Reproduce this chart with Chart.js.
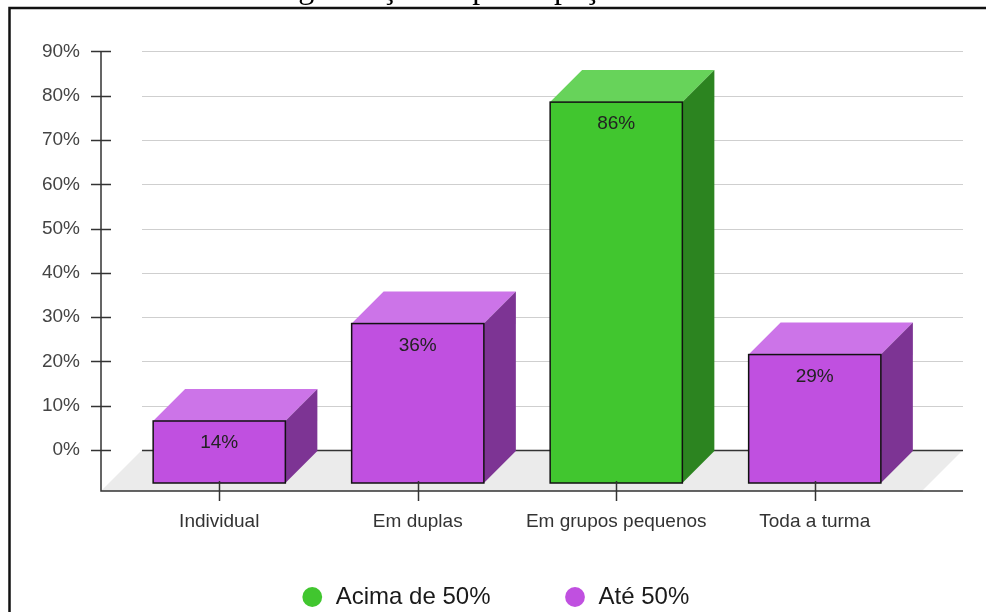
<!DOCTYPE html>
<html><head><meta charset="utf-8">
<script src="https://cdn.jsdelivr.net/npm/chart.js@4.4.1/dist/chart.umd.min.js"></script>
<style>html,body{margin:0;padding:0;background:#fff;}canvas{display:block;}</style>
</head><body>
<canvas id="c" width="986" height="612"></canvas>
<script>
// ---- data ----
const categories = ['Individual', 'Em duplas', 'Em grupos pequenos', 'Toda a turma'];
const acimaValues = [null, null, 86, null];
const ateValues = [14, 36, null, 29];
const valueLabels = ['14%', '36%', '86%', '29%'];
const yTickValues = [0, 10, 20, 30, 40, 50, 60, 70, 80, 90];
const seriesNames = ['Acima de 50%', 'Até 50%'];
const titleText = 'Organização da participação';

// ---- style ----
const GREEN = {front: '#41c62f', top: '#67d35a', side: '#2c8420'};
const PURPLE = {front: '#c050e0', top: '#cc74e8', side: '#7d3494'};
const BAR_D = 32, BASE_D = 33, FLOOR_D = 41, AXIS_GAP = 19, WALL_EXTRA = 49, BAR_FRAC = 0.333;
const SANS = '"Liberation Sans", Arial, sans-serif';
const LEGEND_PAD = 73, LEGEND_FONT = 24, LEGEND_CENTER_Y = 597, LEGEND_DX = 33;

const threeD = {
  id: 'threeD',
  afterLayout(chart) {
    const lg = chart.legend;
    if (lg) {
      lg.top = LEGEND_CENTER_Y - LEGEND_PAD - LEGEND_FONT / 2;
      lg.bottom = chart.height;
      lg.height = lg.bottom - lg.top;
      lg.left += LEGEND_DX; lg.right += LEGEND_DX;
    }
  },
  beforeDraw(chart) {
    const ctx = chart.ctx;
    ctx.save();
    ctx.fillStyle = '#fff';
    ctx.fillRect(0, 0, chart.width, chart.height);
    ctx.fillStyle = '#000';
    ctx.font = '32px "Liberation Serif", serif';
    ctx.textBaseline = 'alphabetic';
    ctx.textAlign = 'left';
    ctx.fillText(titleText, 265, -2);
    ctx.strokeStyle = '#111';
    ctx.lineWidth = 2.5;
    ctx.beginPath();
    ctx.moveTo(9.5, chart.height);
    ctx.lineTo(9.5, 8);
    ctx.lineTo(chart.width, 8);
    ctx.stroke();
    ctx.restore();
  },
  beforeDatasetsDraw(chart) {
    const ctx = chart.ctx;
    const xs = chart.scales.x, ys = chart.scales.y;
    const area = chart.chartArea;
    const y0 = ys.getPixelForValue(0);
    const axisX = area.left - AXIS_GAP;
    const floorY = y0 + FLOOR_D;
    const wallL = axisX + FLOOR_D;
    const wallR = area.right + WALL_EXTRA;
    ctx.save();
    // floor
    ctx.fillStyle = '#ebebeb';
    ctx.beginPath();
    ctx.moveTo(axisX, floorY);
    ctx.lineTo(wallL, y0);
    ctx.lineTo(wallR, y0);
    ctx.lineTo(wallR - FLOOR_D, floorY);
    ctx.closePath();
    ctx.fill();
    // gridlines on back wall
    yTickValues.forEach(v => {
      const y = Math.round(ys.getPixelForValue(v)) + 0.5;
      ctx.strokeStyle = v === 0 ? '#333' : '#cfcfcf';
      ctx.lineWidth = v === 0 ? 1.5 : 1.2;
      ctx.beginPath();
      ctx.moveTo(wallL, y);
      ctx.lineTo(wallR, y);
      ctx.stroke();
    });
    // bars
    const catW = xs.getPixelForValue(1) - xs.getPixelForValue(0);
    const half = catW * BAR_FRAC;
    categories.forEach((c, i) => {
      let v = acimaValues[i], col = GREEN;
      if (v === null || v === undefined) { v = ateValues[i]; col = PURPLE; }
      if (v === null || v === undefined) return;
      const cx = xs.getPixelForValue(i);
      const x0 = cx - half, x1 = cx + half;
      const fb = y0 + BASE_D;
      const ft = ys.getPixelForValue(v) + BASE_D;
      // top
      ctx.fillStyle = col.top;
      ctx.beginPath();
      ctx.moveTo(x0, ft); ctx.lineTo(x0 + BAR_D, ft - BAR_D); ctx.lineTo(x1 + BAR_D, ft - BAR_D); ctx.lineTo(x1, ft);
      ctx.closePath(); ctx.fill();
      // side
      ctx.fillStyle = col.side;
      ctx.beginPath();
      ctx.moveTo(x1, ft); ctx.lineTo(x1 + BAR_D, ft - BAR_D); ctx.lineTo(x1 + BAR_D, fb - BAR_D); ctx.lineTo(x1, fb);
      ctx.closePath(); ctx.fill();
      // front
      ctx.fillStyle = col.front;
      ctx.fillRect(x0, ft, x1 - x0, fb - ft);
      ctx.strokeStyle = '#111';
      ctx.lineWidth = 1.5;
      ctx.strokeRect(x0, ft, x1 - x0, fb - ft);
      // value label
      ctx.fillStyle = '#222';
      ctx.font = '19px ' + SANS;
      ctx.textAlign = 'center';
      ctx.textBaseline = 'middle';
      ctx.fillText(valueLabels[i], cx, ft + 22);
    });
    // axes
    ctx.strokeStyle = '#333';
    ctx.lineWidth = 1.5;
    ctx.beginPath();
    ctx.moveTo(axisX, ys.getPixelForValue(yTickValues[yTickValues.length - 1]));
    ctx.lineTo(axisX, floorY);
    ctx.lineTo(wallR, floorY);
    ctx.stroke();
    yTickValues.forEach(v => {
      const y = Math.round(ys.getPixelForValue(v)) + 0.5;
      ctx.beginPath(); ctx.moveTo(axisX - 10, y); ctx.lineTo(axisX + 10, y); ctx.stroke();
    });
    categories.forEach((c, i) => {
      const x = Math.round(xs.getPixelForValue(i)) + 0.5;
      ctx.beginPath(); ctx.moveTo(x, floorY - 10); ctx.lineTo(x, floorY + 10); ctx.stroke();
    });
    ctx.restore();
    return false;
  }
};

new Chart(document.getElementById('c'), {
  type: 'bar',
  data: {
    labels: categories,
    datasets: [
      {label: seriesNames[0], data: acimaValues, backgroundColor: GREEN.front, borderWidth: 0},
      {label: seriesNames[1], data: ateValues, backgroundColor: PURPLE.front, borderWidth: 0}
    ]
  },
  options: {
    responsive: false,
    devicePixelRatio: 1,
    animation: false,
    events: [],
    layout: {padding: {left: 10, right: 72, top: 50, bottom: 0}},
    scales: {
      x: {
        type: 'category',
        offset: true,
        grid: {display: false, drawTicks: false},
        border: {display: false},
        ticks: {font: {family: SANS, size: 19}, color: '#333', padding: 60, maxRotation: 0, autoSkip: false},
        afterFit(s) { s.height = 92; }
      },
      y: {
        min: 0, max: 90,
        grid: {display: false, drawTicks: false},
        border: {display: false},
        afterBuildTicks(s) { s.ticks = yTickValues.map(v => ({value: v})); },
        ticks: {font: {family: SANS, size: 19}, color: '#444', padding: 40, callback: v => v + '%'},
        afterFit(s) { s.width = 110; }
      }
    },
    plugins: {
      tooltip: {enabled: false},
      legend: {
        position: 'bottom',
        maxHeight: 70,
        labels: {
          usePointStyle: true, pointStyle: 'circle',
          boxWidth: 23, boxHeight: 14, padding: LEGEND_PAD,
          font: {family: SANS, size: LEGEND_FONT}, color: '#1a1a1a'
        }
      }
    }
  },
  plugins: [threeD]
});
</script>
</body></html>
